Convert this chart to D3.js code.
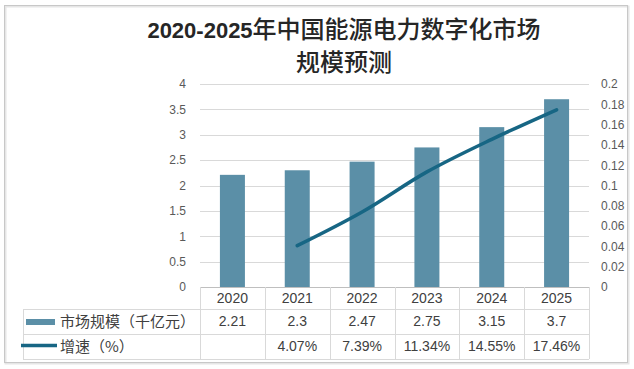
<!DOCTYPE html>
<html><head><meta charset="utf-8">
<script src="https://cdn.jsdelivr.net/npm/d3@7"></script>
<style>html,body{margin:0;padding:0;background:#fff;}svg{display:block;}</style>
</head><body>
<svg id="c" width="634" height="369"></svg>
<script>
const years = ["2020","2021","2022","2023","2024","2025"];
const marketSize = [2.21, 2.3, 2.47, 2.75, 3.15, 3.7];
const growth = [null, 0.0407, 0.0739, 0.1134, 0.1455, 0.1746];
const growthLabels = ["", "4.07%", "7.39%", "11.34%", "14.55%", "17.46%"];
const sizeLabels = ["2.21", "2.3", "2.47", "2.75", "3.15", "3.7"];
const leftTicks = [0, 0.5, 1, 1.5, 2, 2.5, 3, 3.5, 4];
const rightTicks = [0, 0.02, 0.04, 0.06, 0.08, 0.1, 0.12, 0.14, 0.16, 0.18, 0.2];
const seriesNames = ["市场规模（千亿元）", "增速（%）"];
const titleLine1Num = "2020-2025";
const titleLine1Cjk = "年中国能源电力数字化市场";
const titleLine2 = "规模预测";

const svg = d3.select("#c");
const barColor = "#5b8fa7", lineColor = "#176684", grid = "#d9d9d9", txt = "#404040", axisTxt = "#595959";
const numFont = "'Liberation Sans', Arial, sans-serif";
const cjkFont = "'Noto Sans CJK SC', sans-serif";

// outer border
svg.append("rect").attr("x", 5.5).attr("y", 6.5).attr("width", 623).attr("height", 357)
  .attr("fill", "none").attr("stroke", "#e6e6e6").attr("stroke-width", 2);
svg.append("rect").attr("x", 4.5).attr("y", 5.5).attr("width", 623).attr("height", 357)
  .attr("fill", "none").attr("stroke", "#c8c8c8");

// title
const t1 = svg.append("text").attr("x", 344).attr("y", 38).attr("text-anchor", "middle").attr("fill", "#262626");
t1.append("tspan").attr("font-family", numFont).attr("font-weight", "bold").attr("font-size", 22).text(titleLine1Num);
t1.append("tspan").attr("font-family", cjkFont).attr("font-weight", 500).attr("font-size", 24).text(titleLine1Cjk);
svg.append("text").attr("x", 344).attr("y", 71).attr("text-anchor", "middle").attr("fill", "#262626")
  .attr("font-family", cjkFont).attr("font-weight", 500).attr("font-size", 24).text(titleLine2);

const x0 = 200, x1 = 589, yTop = 84, yBot = 287;
const x = d3.scaleBand().domain(years).range([x0, x1]).padding(0);
const yL = d3.scaleLinear().domain([0, 4]).range([yBot, yTop]);
const yR = d3.scaleLinear().domain([0, 0.2]).range([yBot, yTop]);

// gridlines
svg.append("g").selectAll("line").data(leftTicks.filter(d => d > 0)).join("line")
  .attr("x1", x0).attr("x2", x1).attr("y1", d => Math.round(yL(d)) + 0.5).attr("y2", d => Math.round(yL(d)) + 0.5)
  .attr("stroke", grid).attr("stroke-width", 1);

// left axis labels
const gl = svg.append("g").attr("transform", `translate(${x0},0)`)
  .call(d3.axisLeft(yL).tickValues(leftTicks).tickSize(0).tickPadding(14).tickFormat(d => String(d)));
gl.select(".domain").remove();
gl.selectAll("text").attr("font-family", numFont).attr("font-size", 12).attr("fill", axisTxt);

// right axis labels
const gr = svg.append("g").attr("transform", `translate(${x1},0)`)
  .call(d3.axisRight(yR).tickValues(rightTicks).tickSize(0).tickPadding(12).tickFormat(d => String(+d.toFixed(2))));
gr.select(".domain").remove();
gr.selectAll("text").attr("font-family", numFont).attr("font-size", 12).attr("fill", axisTxt);

// bars
const bw = 25;
svg.append("g").selectAll("rect").data(marketSize).join("rect")
  .attr("x", (d, i) => x(years[i]) + x.bandwidth() / 2 - bw / 2)
  .attr("width", bw)
  .attr("y", d => yL(d)).attr("height", d => yBot - yL(d))
  .attr("fill", barColor);

// line
const pts = growth.map((g, i) => g == null ? null : [x(years[i]) + x.bandwidth() / 2, yR(g)]).filter(p => p);
svg.append("path").attr("d", d3.line().curve(d3.curveCatmullRom.alpha(0.5))(pts))
  .attr("fill", "none").attr("stroke", lineColor).attr("stroke-width", 3.5).attr("stroke-linecap", "round");

// table
const r0 = 287, r1 = 309, r2 = 334, r3 = 359, lx = 23;
const tb = svg.append("g").attr("stroke", grid).attr("stroke-width", 1).attr("shape-rendering", "crispEdges");
tb.append("line").attr("x1", x0).attr("x2", x1).attr("y1", r0 + 0.5).attr("y2", r0 + 0.5).attr("stroke", "#bfbfbf");
[r1, r2, r3].forEach(r => tb.append("line").attr("x1", lx).attr("x2", x1).attr("y1", r + 0.5).attr("y2", r + 0.5));
tb.append("line").attr("x1", lx + 0.5).attr("x2", lx + 0.5).attr("y1", r1).attr("y2", r3);
years.forEach(yv => tb.append("line").attr("x1", x(yv) + 0.5).attr("x2", x(yv) + 0.5).attr("y1", r0).attr("y2", r3));
tb.append("line").attr("x1", x1 + 0.5).attr("x2", x1 + 0.5).attr("y1", r0).attr("y2", r3);

const cellText = (arr, yc) => svg.append("g").selectAll("text").data(arr).join("text")
  .attr("x", (d, i) => x(years[i]) + x.bandwidth() / 2).attr("y", yc).attr("dy", "0.35em")
  .attr("text-anchor", "middle").attr("font-family", numFont).attr("font-size", 14).attr("fill", txt).text(d => d);
cellText(years, (r0 + r1) / 2);
cellText(sizeLabels, (r1 + r2) / 2);
cellText(growthLabels, (r2 + r3) / 2);

// legend cells
svg.append("rect").attr("x", 26).attr("y", 319).attr("width", 29).attr("height", 6).attr("fill", barColor);
svg.append("line").attr("x1", 21).attr("x2", 57).attr("y1", 345.5).attr("y2", 345.5).attr("stroke", lineColor).attr("stroke-width", 3.5);
svg.append("text").attr("x", 60).attr("y", (r1 + r2) / 2).attr("dy", "0.35em").attr("font-family", cjkFont)
  .attr("font-size", 15).attr("fill", txt).text(seriesNames[0]);
svg.append("text").attr("x", 60).attr("y", (r2 + r3) / 2).attr("dy", "0.35em").attr("font-family", cjkFont)
  .attr("font-size", 15).attr("fill", txt).text(seriesNames[1]);
</script>
</body></html>
